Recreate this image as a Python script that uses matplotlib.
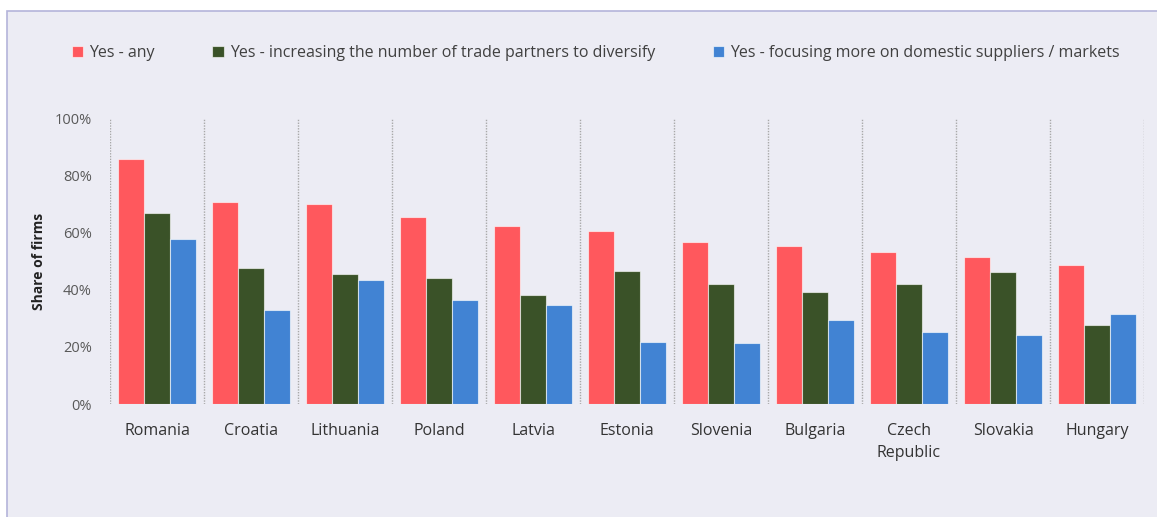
import matplotlib
matplotlib.use("Agg")
import matplotlib.pyplot as plt
import numpy as np
from matplotlib.patches import Rectangle

plt.rcParams['font.family'] = ['Open Sans', 'DejaVu Sans']

# data (share of firms, %)
countries = ["Romania", "Croatia", "Lithuania", "Poland", "Latvia", "Estonia",
             "Slovenia", "Bulgaria", "Czech\nRepublic", "Slovakia", "Hungary"]
yes_any = [85.7, 70.8, 69.9, 65.3, 62.2, 60.4, 56.8, 55.2, 53.1, 51.5, 48.7]
yes_diversify = [66.9, 47.5, 45.6, 44.2, 38.0, 46.5, 41.9, 39.2, 41.9, 46.0, 27.7]
yes_domestic = [57.6, 32.9, 43.2, 36.4, 34.5, 21.7, 21.2, 29.5, 25.3, 24.3, 31.6]
series_labels = ["Yes - any",
                 "Yes - increasing the number of trade partners to diversify",
                 "Yes - focusing more on domestic suppliers / markets"]
yticks = [0, 20, 40, 60, 80, 100]

colors = ["#FF585D", "#3A5228", "#4183D3"]
bg = "#ECECF4"

fig = plt.figure(figsize=(11.57, 5.17), dpi=100, facecolor="white")
# panel background with thin border
fig.patches.append(Rectangle((7 / 1157, -0.02), 1.02, 1 - 11 / 517 + 0.02,
                             transform=fig.transFigure, facecolor=bg,
                             edgecolor="#B4B4DA", linewidth=1.2, zorder=-10))

ax = fig.add_axes([110 / 1157, 1 - 404 / 517, 1034 / 1157, 286 / 517])
ax.set_facecolor("none")

x = np.arange(len(countries))
w = 0.28
for k, (vals, c, lab) in enumerate(zip([yes_any, yes_diversify, yes_domestic], colors, series_labels)):
    ax.bar(x + (k - 1) * w, vals, width=w, color=c, edgecolor=(1, 1, 1, 0.6),
           linewidth=0.8, label=lab, zorder=3)

# dotted separators between countries
for b in np.arange(len(countries) + 1) - 0.5:
    ax.axvline(b, color="#A8A8A8", linestyle=(0, (1, 1)), linewidth=1.0, zorder=1)

ax.set_xlim(-0.5, len(countries) - 0.5)
ax.set_ylim(0, 100)
ax.set_yticks(yticks)
ax.set_yticklabels([f"{v}%" for v in yticks], color="#595959", fontsize=10.5)
ax.set_xticks(x)
ax.set_xticklabels(countries, color="#333333", fontsize=11.5, linespacing=1.45)
ax.tick_params(axis="both", length=0)
ax.tick_params(axis="y", pad=13)
ax.tick_params(axis="x", pad=14)
for s in ax.spines.values():
    s.set_visible(False)

ax.set_ylabel("Share of firms", fontsize=10, fontweight="bold", color="#222222")
ax.yaxis.set_label_coords(-0.062, 0.5)

fig.legend(loc="center", bbox_to_anchor=(0.515, 1 - 53 / 517), ncol=3,
           frameon=False, fontsize=11.5, handlelength=0.7, handleheight=0.7,
           handletextpad=0.4, columnspacing=3.6, labelcolor="#404040")

fig.savefig("out.png", dpi=100, facecolor="white")
